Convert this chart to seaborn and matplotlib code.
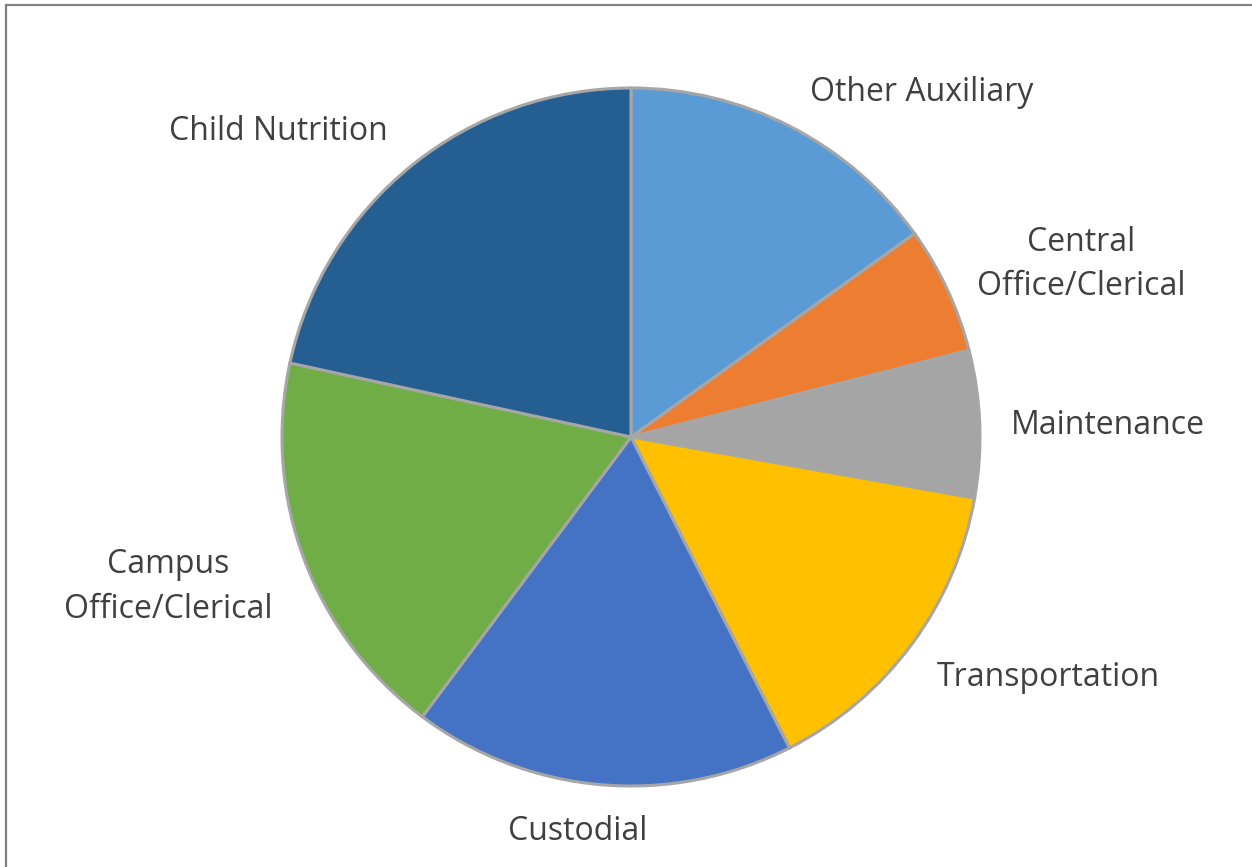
import matplotlib
matplotlib.use("Agg")
import matplotlib.pyplot as plt
from matplotlib.patches import Rectangle
import seaborn as sns

categories = ["Other Auxiliary", "Central\nOffice/Clerical", "Maintenance",
              "Transportation", "Custodial", "Campus\nOffice/Clerical", "Child Nutrition"]
shares = [15.1, 5.9, 6.8, 14.7, 17.7, 18.2, 21.6]
colors = ["#5B9BD5", "#ED7D31", "#A5A5A5", "#FFC000", "#4472C4", "#70AD47", "#255E91"]

# label anchor points (in pie-radius units)
label_pos = [(0.834, 0.988), (1.289, 0.495), (1.367, 0.034), (1.195, -0.688),
             (-0.152, -1.129), (-1.327, -0.430), (-1.011, 0.876)]

sns.set_theme(style="white")
plt.rcParams["font.family"] = ["Open Sans", "DejaVu Sans"]
palette = sns.color_palette(colors)

W, H, DPI = 1252, 867, 100
fig = plt.figure(figsize=(W / DPI, H / DPI), dpi=DPI)
ax = fig.add_axes([0, 0, 1, 1])

ax.pie(shares, colors=palette, startangle=90, counterclock=False, radius=1.0,
       wedgeprops=dict(edgecolor="#A6A6A6", linewidth=2.2))

for name, (x, y) in zip(categories, label_pos):
    ax.text(x, y, name, ha="center", va="center", fontsize=23,
            color="#404040", linespacing=1.45)

cx, cy, r = 631, 437, 349
ax.set_xlim(-cx / r, (W - cx) / r)
ax.set_ylim(-(H - cy) / r, cy / r)
ax.set_aspect("equal")
ax.axis("off")

# chart frame
fig.patches.append(Rectangle((6 / W, -0.05), 1.2, (H - 5) / H + 0.05,
                             transform=fig.transFigure, fill=False,
                             edgecolor="#808080", linewidth=1.6))

fig.savefig("out.png", dpi=DPI, facecolor="white")
